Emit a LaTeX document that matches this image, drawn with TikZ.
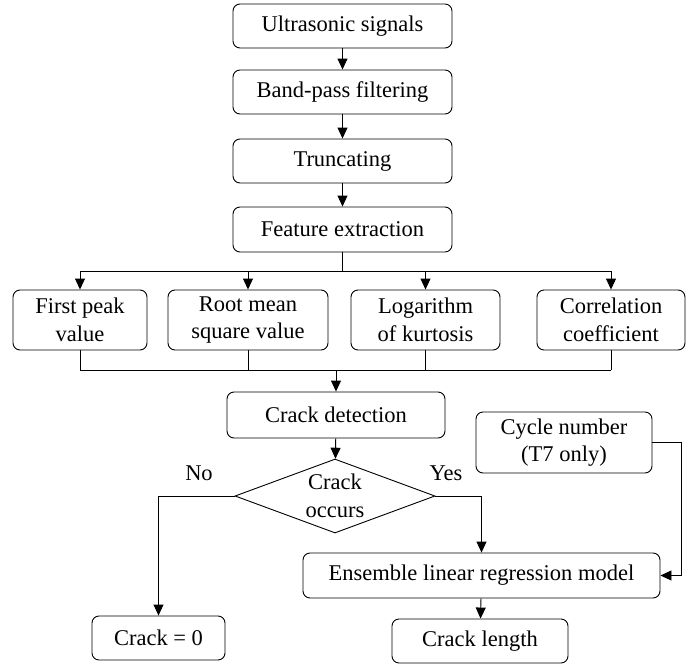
\documentclass[tikz,border=0pt]{standalone}
\usepackage{fontspec}
\setmainfont{LiberationSerif}[Extension=.ttf, UprightFont=*-Regular, BoldFont=*-Bold, ItalicFont=*-Italic, BoldItalicFont=*-BoldItalic]
\usetikzlibrary{arrows.meta,shapes.geometric}
\begin{document}
\begin{tikzpicture}[x=1pt,y=-1pt,
  every node/.style={font=\rmfamily\fontsize{22.5}{27.5}\selectfont},
  stepbox/.style={draw, rounded corners=7pt, inner sep=0pt, align=center, line width=0.9pt},
  decision/.style={draw, diamond, inner sep=0pt, line width=0.9pt},
  arr/.style={-{Triangle[width=10pt,length=11pt]}},
  line/.style={line width=0.9pt}]
\useasboundingbox (0,0) rectangle (694,664);

% main pipeline
\node[stepbox, minimum width=219pt, minimum height=44pt] (us) at (342.5,26) {Ultrasonic signals};
\node[stepbox, minimum width=219pt, minimum height=44pt] (bp) at (342.5,92) {Band-pass filtering};
\node[stepbox, minimum width=219pt, minimum height=44pt] (tr) at (342.5,161) {Truncating};
\node[stepbox, minimum width=219pt, minimum height=45pt] (fe) at (342.5,229.5) {Feature extraction};

% features
\node[stepbox, minimum width=134pt, minimum height=60pt] (f1) at (80,320) {First peak\\value};
\node[stepbox, minimum width=160pt, minimum height=60pt] (f2) at (248,320) {Root mean\\square value};
\node[stepbox, minimum width=149pt, minimum height=60pt] (f3) at (425.5,320) {Logarithm\\of kurtosis};
\node[stepbox, minimum width=148pt, minimum height=60pt] (f4) at (611,320) {Correlation\\coefficient};

% detection and regression
\node[stepbox, minimum width=218pt, minimum height=46pt] (cd) at (336,415) {Crack detection};
\node[decision, minimum width=200pt, minimum height=74pt] (dm) at (335,496) {};
\node[align=center, inner sep=0pt] (dmtext) at (dm.center) {Crack\\occurs};
\node[stepbox, minimum width=176pt, minimum height=61pt] (cy) at (564,442.5) {Cycle number\\(T7 only)};
\node[stepbox, minimum width=357pt, minimum height=45pt] (en) at (481.5,575.5) {Ensemble linear regression model};
\node[stepbox, minimum width=176pt, minimum height=44pt] (cl) at (480,641) {Crack length};
\node[stepbox, minimum width=133pt, minimum height=44pt] (c0) at (158.5,638) {Crack = 0};

\node (no) at (199,473) {No};
\node (yes) at (446,473) {Yes};

% bus lines
\coordinate (b1) at (0,271);
\coordinate (b2) at (0,370);
\coordinate (cyc) at (681,442.5);

\begin{scope}[line]
\draw[arr] (us) -- (bp);
\draw[arr] (bp) -- (tr);
\draw[arr] (tr) -- (fe);
\draw (fe.south) -- (fe.south |- b1);
\draw (f1.north |- b1) -- (f4.north |- b1);
\foreach \f in {f1,f2,f3,f4}{\draw[arr] (\f.north |- b1) -- (\f.north);}
\foreach \f in {f1,f2,f3,f4}{\draw (\f.south) -- (\f.south |- b2);}
\draw (f1.south |- b2) -- (f4.south |- b2);
\draw[arr] (cd.north |- b2) -- (cd.north);
\draw[arr] (cd) -- (dm);
\draw[arr] (dm.west) -| (c0.north);
\draw[arr] (dm.east) -| (en.north);
\draw[arr] (cy.east) -- (cyc) |- (en.east);
\draw[arr] (en) -- (cl);
\end{scope}
\end{tikzpicture}
\end{document}
